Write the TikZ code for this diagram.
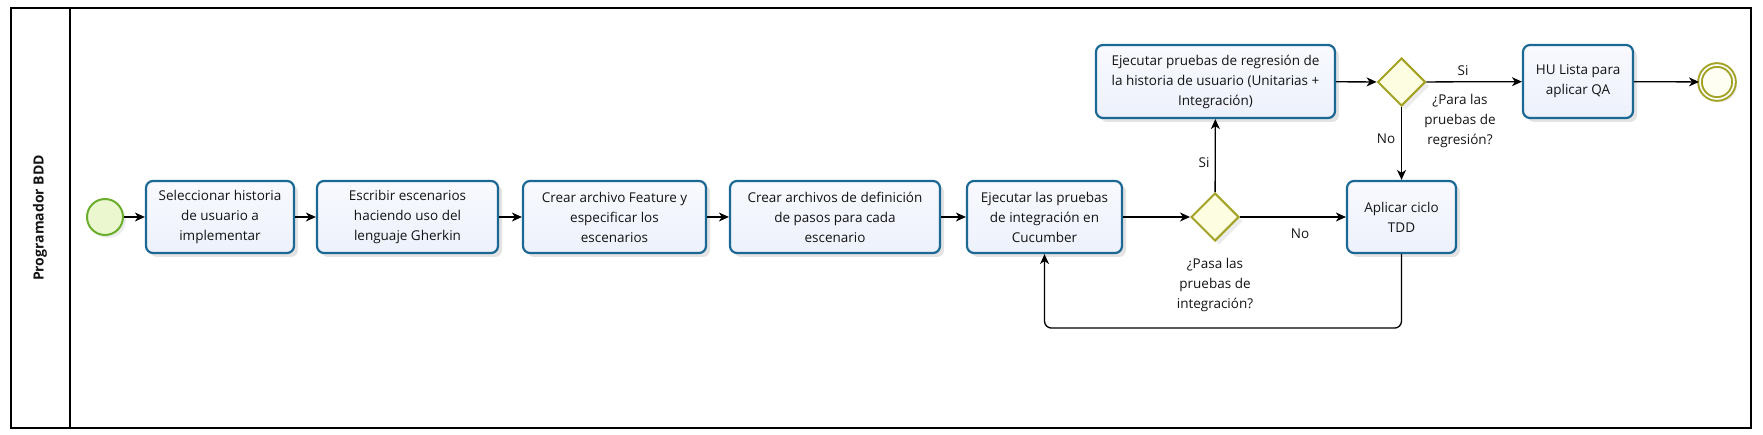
\documentclass[tikz,border=0pt]{standalone}
\usepackage{fontspec}
\setmainfont{Open Sans}
\usetikzlibrary{shapes.geometric,arrows.meta,shadows,calc}
\definecolor{taskline}{HTML}{1C6894}
\definecolor{taskfill}{HTML}{EDF1FC}
\definecolor{gwline}{HTML}{A3A226}
\definecolor{gwfill}{HTML}{FDFDE2}
\definecolor{stline}{HTML}{6AAE2C}
\definecolor{stfill}{HTML}{EAF7CF}
\definecolor{txt}{HTML}{141414}
\tikzset{
  task/.style={draw=taskline, line width=2.2pt, top color=white!60!taskfill, bottom color=taskfill, rounded corners=7pt,
    align=center, text=txt, font=\fontsize{13.5}{20}\selectfont, inner sep=0pt,
    drop shadow={shadow xshift=4pt, shadow yshift=-4pt, opacity=0.22}},
  gateway/.style={diamond, aspect=1, draw=gwline, line width=2pt, fill=gwfill,
    minimum width=48pt, minimum height=48pt, inner sep=0pt,
    drop shadow={shadow xshift=4pt, shadow yshift=-4pt, opacity=0.15}},
  lbl/.style={align=center, text=txt, font=\fontsize{13.5}{20}\selectfont, inner sep=0pt},
  flow/.style={draw=black, line width=1.3pt, -{Stealth[length=10pt,width=9pt,inset=3pt]}},
}
\begin{document}
\begin{tikzpicture}[x=1pt,y=-1pt]
\useasboundingbox (0,0) rectangle (1763,435);
% pool
\draw[line width=1.5pt] (11,8) rectangle (1751,428);
\draw[line width=1.5pt] (70,8) -- (70,428);
\node[rotate=90, font=\fontsize{14}{16}\selectfont\bfseries, text=txt] (lane) at (40,218) {Programador BDD};
% events
\node[circle, draw=stline, fill=stfill, line width=2pt, minimum size=36pt, inner sep=0pt,
  drop shadow={shadow xshift=3pt, shadow yshift=-3pt, opacity=0.15}] (start) at (105,217) {};
\node[circle, draw=gwline, fill=gwfill!40!white, double=white, double distance=1.6pt, line width=2pt,
  minimum size=34pt, inner sep=0pt,
  drop shadow={shadow xshift=3pt, shadow yshift=-3pt, opacity=0.15}] (end) at (1717,82) {};
% tasks
\node[task, minimum width=148pt, minimum height=72pt] (t1) at (220,217) {Seleccionar historia\\de usuario a\\implementar};
\node[task, minimum width=181pt, minimum height=72pt] (t2) at (407.5,217) {Escribir escenarios\\haciendo uso del\\lenguaje Gherkin};
\node[task, minimum width=183pt, minimum height=72pt] (t3) at (614.5,217) {Crear archivo Feature y\\especificar los\\escenarios};
\node[task, minimum width=210pt, minimum height=72pt] (t4) at (835,217) {Crear archivos de definición\\de pasos para cada\\escenario};
\node[task, minimum width=155pt, minimum height=72pt] (t5) at (1044.5,217) {Ejecutar las pruebas\\de integración en\\Cucumber};
\node[gateway] (g1) at (1215,217) {};
\node[task, minimum width=109pt, minimum height=72pt] (tdd) at (1401.5,217) {Aplicar ciclo\\TDD};
\node[task, minimum width=239pt, minimum height=73pt] (reg) at (1215.5,81.5) {Ejecutar pruebas de regresión de\\la historia de usuario (Unitarias +\\Integración)};
\node[gateway] (g2) at (1401.5,82) {};
\node[task, minimum width=110pt, minimum height=73pt] (hu) at (1578,81.5) {HU Lista para\\aplicar QA};
% labels
\node[lbl] (lg1) at (1215,285) {¿Pasa las\\pruebas de\\integración?};
\node[lbl] (lg2) at (1460,121) {¿Para las\\pruebas de\\regresión?};
\node[lbl] (lno1) at (1300,234) {No};
\node[lbl] (lsi1) at (1204,163) {Si};
\node[lbl] (lno2) at (1386,139) {No};
\node[lbl] (lsi2) at (1463,71) {Si};
% flows
\draw[flow] (start) -- (t1);
\draw[flow] (t1) -- (t2);
\draw[flow] (t2) -- (t3);
\draw[flow] (t3) -- (t4);
\draw[flow] (t4) -- (t5);
\draw[flow] (t5) -- (g1);
\draw[flow] (g1) -- (tdd);
\draw[flow] (g1) -- (reg);
\draw[flow] (reg) -- (g2);
\draw[flow] (g2) -- (hu);
\draw[flow] (g2) -- (tdd);
\draw[flow] (hu) -- (end);
\coordinate (lp1) at ($(tdd.south)+(0,74)$);
\coordinate (lp2) at (t5.south |- lp1);
\draw[flow, rounded corners=7pt] (tdd.south) -- (lp1) -- (lp2) -- (t5.south);
\end{tikzpicture}
\end{document}
